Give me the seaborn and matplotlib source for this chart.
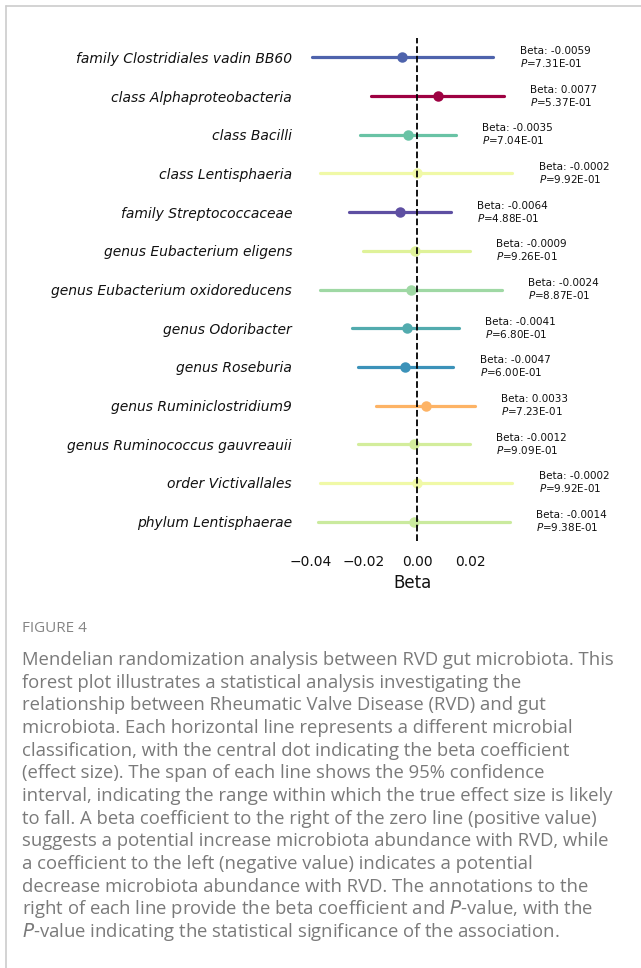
import matplotlib
matplotlib.use("Agg")
import matplotlib.pyplot as plt
import matplotlib.colors as mcolors
from matplotlib.lines import Line2D
import seaborn as sns
import pandas as pd

# ---------------- data ----------------
taxa = [
    "family Clostridiales vadin BB60",
    "class Alphaproteobacteria",
    "class Bacilli",
    "class Lentisphaeria",
    "family Streptococcaceae",
    "genus Eubacterium eligens",
    "genus Eubacterium oxidoreducens",
    "genus Odoribacter",
    "genus Roseburia",
    "genus Ruminiclostridium9",
    "genus Ruminococcus gauvreauii",
    "order Victivallales",
    "phylum Lentisphaerae",
]
beta = [-0.0059, 0.0077, -0.0035, -0.0002, -0.0064, -0.0009, -0.0024,
        -0.0041, -0.0047, 0.0033, -0.0012, -0.0002, -0.0014]
ci_low = [-0.0396, -0.0174, -0.0214, -0.0366, -0.0256, -0.0203, -0.0366,
          -0.0246, -0.0224, -0.0156, -0.0224, -0.0366, -0.0374]
ci_high = [0.0284, 0.0325, 0.0143, 0.0356, 0.0126, 0.0197, 0.0317,
           0.0156, 0.0134, 0.0216, 0.0197, 0.0356, 0.0347]
pvals = [0.731, 0.537, 0.704, 0.992, 0.488, 0.926, 0.887,
         0.680, 0.600, 0.723, 0.909, 0.992, 0.938]
x_ticks = [-0.04, -0.02, 0.00, 0.02]

caption_title = "FIGURE 4"
caption_lines = [
    "Mendelian randomization analysis between RVD gut microbiota. This",
    "forest plot illustrates a statistical analysis investigating the",
    "relationship between Rheumatic Valve Disease (RVD) and gut",
    "microbiota. Each horizontal line represents a different microbial",
    "classification, with the central dot indicating the beta coefficient",
    "(effect size). The span of each line shows the 95% confidence",
    "interval, indicating the range within which the true effect size is likely",
    "to fall. A beta coefficient to the right of the zero line (positive value)",
    "suggests a potential increase microbiota abundance with RVD, while",
    "a coefficient to the left (negative value) indicates a potential",
    "decrease microbiota abundance with RVD. The annotations to the",
    "right of each line provide the beta coefficient and $\\it{P}$-value, with the",
    "$\\it{P}$-value indicating the statistical significance of the association.",
]

# long table: low / estimate / high per taxon -> median = beta, 100% interval = CI
rows = []
for t, lo, b, hi in zip(taxa, ci_low, beta, ci_high):
    for v in (lo, b, hi):
        rows.append({"taxon": t, "value": v})
df = pd.DataFrame(rows)

cmap = plt.get_cmap("Spectral_r")
norm = mcolors.Normalize(vmin=min(beta), vmax=max(beta))
palette = {t: cmap(norm(b)) for t, b in zip(taxa, beta)}

# ---------------- figure ----------------
sns.set_theme(style="white")
plt.rcParams["font.family"] = ["DejaVu Sans"]
plt.rcParams["mathtext.fontset"] = "dejavusans"

W, H = 641, 968
fig = plt.figure(figsize=(W / 100, H / 100), dpi=100)
L, R, T, B = 306, 519, 38, 541
ax = fig.add_axes([L / W, 1 - B / H, (R - L) / W, (B - T) / H])

sns.pointplot(
    data=df, x="value", y="taxon", hue="taxon", order=taxa, hue_order=taxa,
    palette=palette, estimator="median", errorbar=("pi", 100),
    linestyle="none", markers="o", markersize=5.5,
    err_kws={"linewidth": 2.3}, legend=False, ax=ax, orient="h",
)

ax.axvline(0, color="black", linestyle="--", linewidth=1.3, zorder=5)

for i, (b, hi, p) in enumerate(zip(beta, ci_high, pvals)):
    ax.annotate(f"Beta: {b:.4f}\n$P$={p:.2E}", xy=(hi, i), xytext=(19, 0),
                textcoords="offset points", ha="left", va="center",
                fontsize=7.5, color="#111111", linespacing=1.1)

ax.set_xlim(-0.0418, 0.0381)
ax.set_ylim(len(taxa) - 0.5, -0.5)
ax.set_xticks(x_ticks)
ax.set_xticklabels([f"{v:.2f}".replace("-", "\u2212") for v in x_ticks])
ax.tick_params(axis="x", length=0, pad=10, labelsize=10, colors="#111111")
ax.tick_params(axis="y", length=0, pad=10, labelsize=10, colors="#111111")
for lbl in ax.get_yticklabels():
    lbl.set_fontstyle("italic")
ax.set_ylabel("")
ax.set_xlabel("Beta", fontsize=12, color="#111111", labelpad=4)
for s in ax.spines.values():
    s.set_visible(False)

# frame lines of the figure panel
fig.add_artist(Line2D([6 / W, 1], [1 - 6 / H, 1 - 6 / H], color="#cccccc",
                      linewidth=1.2, transform=fig.transFigure))
fig.add_artist(Line2D([6 / W, 6 / W], [0, 1 - 6 / H], color="#cccccc",
                      linewidth=1.2, transform=fig.transFigure))

# caption
fig.text(22 / W, 1 - 629 / H, caption_title, color="#858585", fontsize=11,
         family="Open Sans", va="center", ha="left")
y0, dy = 660, 22.65
for k, line in enumerate(caption_lines):
    fig.text(22 / W, 1 - (y0 + k * dy) / H, line, color="#7a7a7a",
             fontsize=13.35, family="Open Sans", va="center", ha="left")

fig.savefig("out.png", dpi=100)
